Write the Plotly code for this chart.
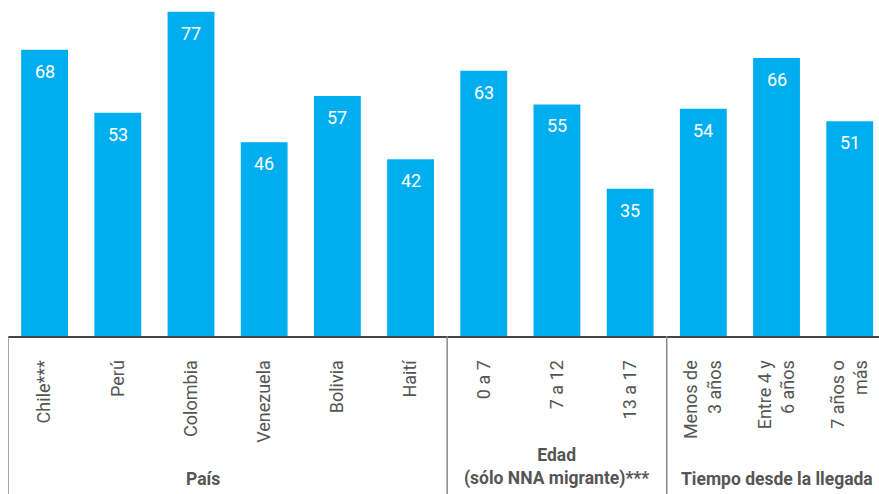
import plotly.graph_objects as go

# Datos
categorias = ['Chile***', 'Perú', 'Colombia', 'Venezuela', 'Bolivia', 'Haití',
              '0 a 7', '7 a 12', '13 a 17',
              'Menos de<br>3 años', 'Entre 4 y<br>6 años', '7 años o<br>más']
valores = [68, 53, 77, 46, 57, 42, 63, 55, 35, 54, 66, 51]

# Grupos: (texto, posición x en categorías)
grupos = ['<b>País</b>', '<b>Edad</b><br><b>(sólo NNA migrante)***</b>', '<b>Tiempo desde la llegada</b>']
grupos_x = [2.17, 7, 10]
separadores = [-0.5, 5.5, 8.5]

AZUL = '#00AEEF'
GRIS = '#555555'
FUENTE = 'Roboto, sans-serif'

x = list(range(len(categorias)))

fig = go.Figure(go.Bar(
    x=x,
    y=valores,
    marker=dict(color=AZUL, line=dict(width=0)),
    width=0.64,
    hoverinfo='skip',
))

# Valores dentro de las barras
for xi, v in zip(x, valores):
    fig.add_annotation(
        x=xi, y=v, text=str(v), showarrow=False,
        yanchor='top', yshift=-9,
        font=dict(family=FUENTE, size=18, color='white'),
    )

# Separadores verticales bajo el eje
for s in separadores:
    fig.add_shape(type='line', xref='x', yref='paper', x0=s, x1=s, y0=0, y1=-0.48,
                  line=dict(color='#888888', width=1.5))

# Etiquetas de grupo
for texto, gx in zip(grupos, grupos_x):
    fig.add_annotation(
        x=gx, xref='x', y=-0.46, yref='paper', yanchor='bottom',
        text=texto, showarrow=False,
        font=dict(family=FUENTE, size=17.5, color=GRIS),
    )

fig.update_layout(
    width=879, height=494,
    margin=dict(l=8, r=0, t=0, b=158),
    paper_bgcolor='white', plot_bgcolor='white',
    showlegend=False,
    font=dict(family=FUENTE, color=GRIS),
)
fig.update_xaxes(
    range=[-0.5, 11.4],
    tickvals=x, ticktext=categorias,
    tickangle=-90, tickfont=dict(family=FUENTE, size=18, color=GRIS),
    ticklabelstandoff=15,
    showline=True, linecolor='#444444', linewidth=2,
    showgrid=False, zeroline=False, fixedrange=True,
)
fig.update_yaxes(range=[0, 79.8], visible=False, showgrid=False, fixedrange=True)

fig.write_html('out.html', config={'displayModeBar': False},
               post_script="document.body.style.margin='0';")
